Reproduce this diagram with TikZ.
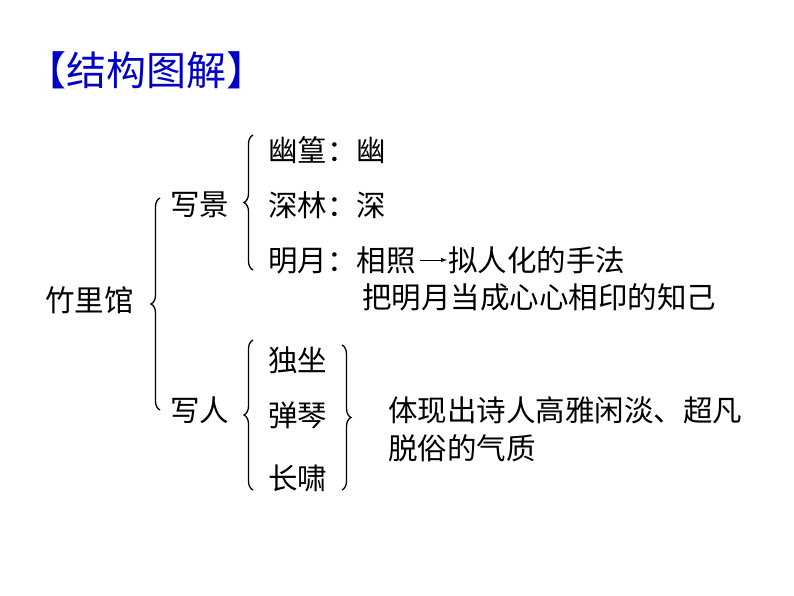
\documentclass[tikz,border=0pt]{standalone}
\usepackage{fontspec}
\setmainfont{Noto Sans CJK SC}
\usetikzlibrary{decorations.pathreplacing}
\begin{document}
\begin{tikzpicture}[x=1pt,y=-1pt,
  txt/.style={anchor=west,inner sep=0pt,font=\fontsize{29.5}{32}\selectfont},
  brc/.style={decorate,decoration={brace,amplitude=9pt},line width=1.3pt}]
\useasboundingbox (0,0) rectangle (794,596);
\node[txt,anchor=west,text={rgb,255:red,0;green,0;blue,200},font=\fontsize{40}{44}\selectfont] (title) at (26,70) {【结构图解】};
\node[txt] (root) at (45,300) {竹里馆};
\node[txt] (jing) at (170,205) {写景};
\node[txt] (ren) at (170,410) {写人};
\node[txt] (y1) at (268,150) {幽篁：幽};
\node[txt] (y2) at (268,205) {深林：深};
\node[txt] (y3) at (268,260) {明月：相照};
\node[txt] (y3b) at (448,260) {拟人化的手法};
\node[txt] (y4) at (362,297) {把明月当成心心相印的知己};
\node[txt] (r1) at (268,360) {独坐};
\node[txt] (r2) at (268,415) {弹琴};
\node[txt] (r3) at (268,478) {长啸};
\node[txt] (c1) at (388,410) {体现出诗人高雅闲淡、超凡};
\node[txt] (c2) at (388,448) {脱俗的气质};
\draw[-latex,line width=1pt,shorten <=4pt,shorten >=1pt] (y3.east) -- (y3b.west);
\coordinate (b1s) at (160,410); \coordinate (b1e) at (160,198);
\draw[brc] (b1s) -- (b1e);
\coordinate (b2s) at (253,270); \coordinate (b2e) at (253,135);
\draw[brc] (b2s) -- (b2e);
\coordinate (b3s) at (253,490); \coordinate (b3e) at (253,340);
\draw[brc] (b3s) -- (b3e);
\coordinate (b4s) at (342,345); \coordinate (b4e) at (342,490);
\draw[brc] (b4s) -- (b4e);
\end{tikzpicture}
\end{document}
